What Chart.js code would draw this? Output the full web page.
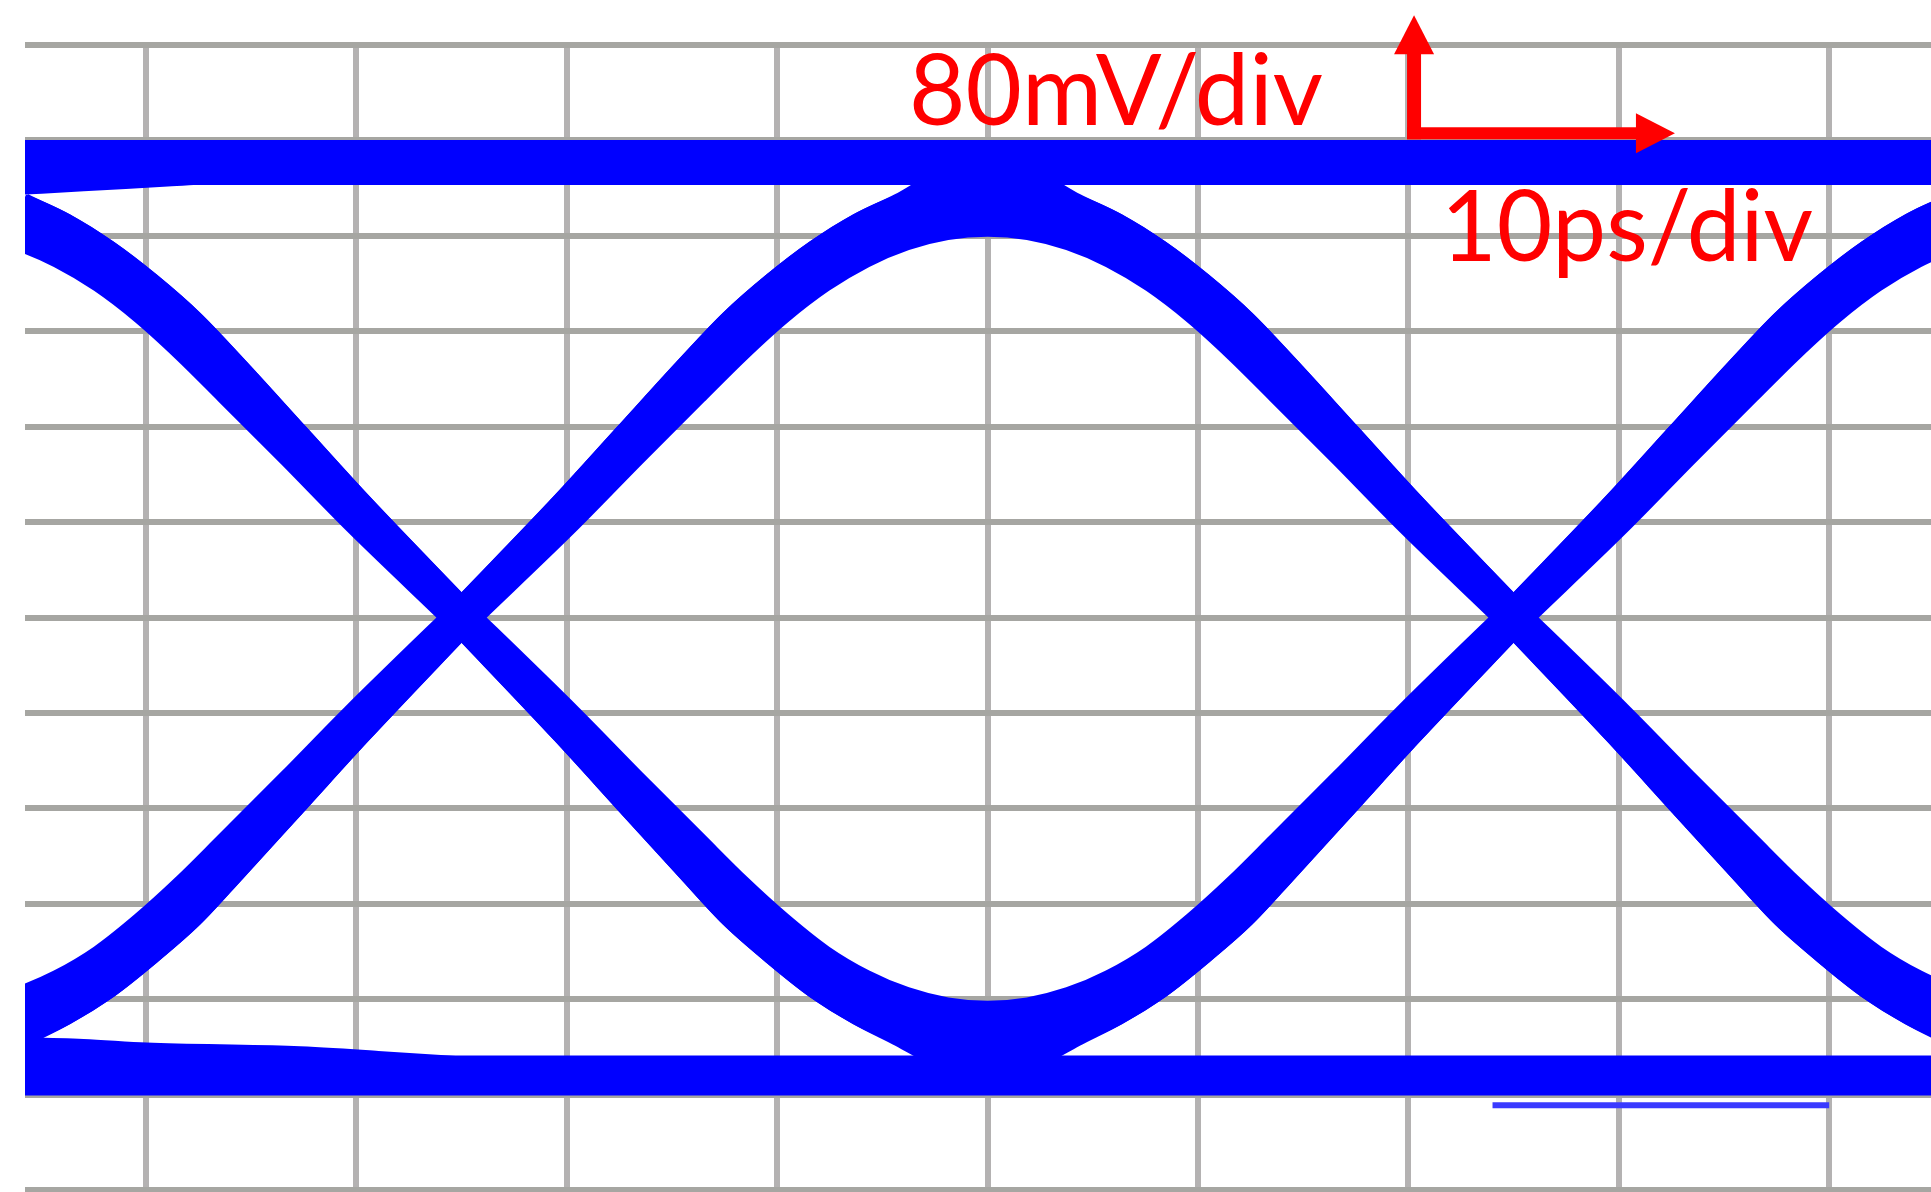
<!DOCTYPE html>
<html>
<head>
<meta charset="utf-8">
<title>Eye diagram</title>
<script src="https://cdn.jsdelivr.net/npm/chart.js@4.4.1/dist/chart.umd.min.js"></script>
<style>
  html, body { margin: 0; padding: 0; background: #fff; }
  #wrap { position: relative; width: 1931px; height: 1192px; overflow: hidden; }
  #eye { position: absolute; left: 0; top: 0; }
  #labels { position: absolute; left: 0; top: 0; pointer-events: none; }
  #labels text { font-family: Lato, "Open Sans", sans-serif; font-size: 99px; fill: #ff0000; }
</style>
</head>
<body>
<div id="wrap">
  <canvas id="eye" width="1931" height="1192"></canvas>
  <svg id="labels" width="1931" height="1192">
    <text x="909" y="125" textLength="414" lengthAdjust="spacingAndGlyphs">80mV/div</text>
    <text x="1441" y="261" textLength="372" lengthAdjust="spacingAndGlyphs">10ps/div</text>
  </svg>
</div>
<script>
// time in ps (10 ps/div), amplitude in mV (80 mV/div)
const timeMin = -5.75;
const timeMax = 84.84;
const timeStep = 10;
const voltMin = -480;
const voltMax = 480;
const voltStep = 80;

// steady "1" and "0" levels
const railHigh = [[-7, 381.5], [87, 381.5]];
const railLow = [[-7, -384], [87, -384]];

// slow settling just inside the rails on the left
const settleHigh = [[-7, 368], [-3, 372], [1, 376], [4, 379], [8, 381.5]];
const settleLow = [[-7, -366], [-3, -368], [0, -371], [7, -374], [11, -378], [16, -384]];

// 0-1-0 pulses: cross at 15 ps and 65 ps, top at 40 ps (inner and outer edge of the band)
const pulseUp = [
  [-8, -333], [-6, -324], [-4, -309], [-2, -288], [0, -260], [2, -228], [4, -193], [7, -140], [10, -86],
  [15, 0], [20, 85], [23, 139], [26, 192], [28, 227], [30, 259], [32, 286], [34, 307], [36, 322], [38, 331],
  [40, 334], [42, 331], [44, 322], [46, 307], [48, 286], [50, 259], [52, 227], [54, 192], [57, 139], [60, 85],
  [65, 0], [70, -86], [73, -140], [76, -193], [78, -228], [80, -260], [82, -288], [84, -309], [86, -324], [88, -333],
];
const pulseUpWide = [
  [-8, -355], [-6, -344], [-4, -328], [-2, -306], [0, -278], [2, -247], [4, -209], [7, -151], [10, -93],
  [15, 0], [20, 92], [23, 150], [26, 208], [28, 245], [30, 276], [32, 303], [34, 325], [36, 341], [38, 352],
  [40, 356], [42, 352], [44, 341], [46, 325], [48, 303], [50, 276], [52, 245], [54, 208], [57, 150], [60, 92],
  [65, 0], [70, -93], [73, -151], [76, -209], [78, -247], [80, -278], [82, -306], [84, -328], [86, -344], [88, -355],
];

// 1-0-1 pulses: bottom at 40 ps
const pulseDown = [
  [-8, 331], [-6, 322], [-4, 307], [-2, 286], [0, 259], [2, 227], [4, 192], [7, 139], [10, 85],
  [15, 0], [20, -86], [23, -140], [26, -193], [28, -228], [30, -260], [32, -288], [34, -309], [36, -324], [38, -333],
  [40, -336], [42, -333], [44, -324], [46, -309], [48, -288], [50, -260], [52, -228], [54, -193], [57, -140], [60, -86],
  [65, 0], [70, 85], [73, 139], [76, 192], [78, 227], [80, 259], [82, 286], [84, 307], [86, 322], [88, 331],
];
const pulseDownWide = [
  [-8, 352], [-6, 341], [-4, 325], [-2, 303], [0, 276], [2, 245], [4, 208], [7, 150], [10, 92],
  [15, 0], [20, -93], [23, -151], [26, -209], [28, -247], [30, -278], [32, -306], [34, -328], [36, -344], [38, -355],
  [40, -359], [42, -355], [44, -344], [46, -328], [48, -306], [50, -278], [52, -247], [54, -209], [57, -151], [60, -93],
  [65, 0], [70, 92], [73, 150], [76, 208], [78, 245], [80, 276], [82, 303], [84, 325], [86, 341], [88, 352],
];

// edges that leave or settle into a rail (A = 15 ps crossing, B = 65 ps crossing)
const fallFromHighA = [[-10, 373], [-8, 362], [-6, 342], [-4, 325], [-2, 303], [0, 276], [2, 245], [4, 208], [7, 150], [10, 92], [15, 0]];
const riseFromLowA = [[-10, -376], [-8, -365], [-6, -346], [-4, -328], [-2, -306], [0, -278], [2, -247], [4, -209], [7, -151], [10, -93], [15, 0]];
const riseToHighA = [[15, 0], [20, 92], [23, 150], [26, 208], [28, 245], [30, 276], [32, 303], [34, 325], [36, 342], [38, 362], [40, 373], [43, 380], [48, 382]];
const fallToLowA = [[15, 0], [20, -93], [23, -151], [26, -209], [28, -247], [30, -278], [32, -306], [34, -328], [36, -346], [38, -365], [40, -376], [43, -382], [48, -385]];
const fallFromHighB = [[32, 382], [37, 380], [40, 373], [42, 362], [44, 342], [46, 325], [48, 303], [50, 276], [52, 245], [54, 208], [57, 150], [60, 92], [65, 0]];
const riseFromLowB = [[32, -385], [37, -382], [40, -376], [42, -365], [44, -346], [46, -328], [48, -306], [50, -278], [52, -247], [54, -209], [57, -151], [60, -93], [65, 0]];
const riseToHighB = [[65, 0], [70, 92], [73, 150], [76, 208], [78, 245], [80, 276], [82, 303], [84, 325], [86, 342], [88, 362]];
const fallToLowB = [[65, 0], [70, -93], [73, -151], [76, -209], [78, -247], [80, -278], [82, -306], [84, -328], [86, -346], [88, -365]];

// stray sweep just under the "0" level on the right
const strayLow = [[64, -409], [80, -409]];

// scale annotation arrow (ps / mV)
const arrowCorner = [60.27, 406];
const arrowUpTo = 505;
const arrowRightTo = 72.67;

const BLUE = "#0000ff";
const RED = "#ff0000";
const STRAND = 35;

function trace(pairs, width, color) {
  return {
    data: pairs.map(([x, y]) => ({ x, y })),
    borderColor: color || BLUE,
    backgroundColor: color || BLUE,
    borderWidth: width,
    pointRadius: 0,
    fill: false,
    cubicInterpolationMode: "monotone",
    borderJoinStyle: "round",
    clip: 0,
  };
}

const arrowPlugin = {
  id: "scaleArrow",
  afterDraw(chart) {
    const { ctx, scales } = chart;
    const cx = scales.x.getPixelForValue(arrowCorner[0]);
    const cy = scales.y.getPixelForValue(arrowCorner[1]);
    const tipY = scales.y.getPixelForValue(arrowUpTo);
    const tipX = scales.x.getPixelForValue(arrowRightTo);
    const head = 39;
    ctx.save();
    ctx.fillStyle = RED;
    // vertical shaft + head
    ctx.fillRect(cx - 7, tipY + head - 1, 14, cy + 6 - (tipY + head - 1));
    ctx.beginPath();
    ctx.moveTo(cx, tipY);
    ctx.lineTo(cx - 20, tipY + head);
    ctx.lineTo(cx + 20, tipY + head);
    ctx.closePath();
    ctx.fill();
    // horizontal shaft + head
    ctx.fillRect(cx - 7, cy - 6, tipX - head + 1 - (cx - 7), 12);
    ctx.beginPath();
    ctx.moveTo(tipX, cy);
    ctx.lineTo(tipX - head, cy - 20);
    ctx.lineTo(tipX - head, cy + 20);
    ctx.closePath();
    ctx.fill();
    ctx.restore();
  },
};

new Chart(document.getElementById("eye"), {
  type: "line",
  data: {
    datasets: [
      trace(railHigh, 45),
      trace(railLow, 40),
      trace(settleHigh, STRAND),
      trace(settleLow, STRAND),
      trace(pulseUp, STRAND),
      trace(pulseUpWide, STRAND),
      trace(pulseDown, STRAND),
      trace(pulseDownWide, STRAND),
      trace(fallFromHighA, STRAND),
      trace(riseFromLowA, STRAND),
      trace(riseToHighA, STRAND),
      trace(fallToLowA, STRAND),
      trace(fallFromHighB, STRAND),
      trace(riseFromLowB, STRAND),
      trace(riseToHighB, STRAND),
      trace(fallToLowB, STRAND),
      trace(strayLow, 6, "#3a3aff"),
    ],
  },
  options: {
    responsive: false,
    animation: false,
    devicePixelRatio: 1,
    events: [],
    layout: { padding: { left: 25, top: 45, right: 0, bottom: 2 } },
    plugins: { legend: { display: false }, tooltip: { enabled: false } },
    scales: {
      x: {
        type: "linear",
        min: timeMin,
        max: timeMax,
        ticks: { display: false, stepSize: timeStep, includeBounds: false },
        grid: { color: "#b4b2b2", lineWidth: 6, drawTicks: false },
        border: { display: false },
      },
      y: {
        type: "linear",
        min: voltMin,
        max: voltMax,
        ticks: { display: false, stepSize: voltStep },
        grid: { color: "#a6a6a2", lineWidth: 6, drawTicks: false },
        border: { display: false },
      },
    },
  },
  plugins: [arrowPlugin],
});
</script>
</body>
</html>
